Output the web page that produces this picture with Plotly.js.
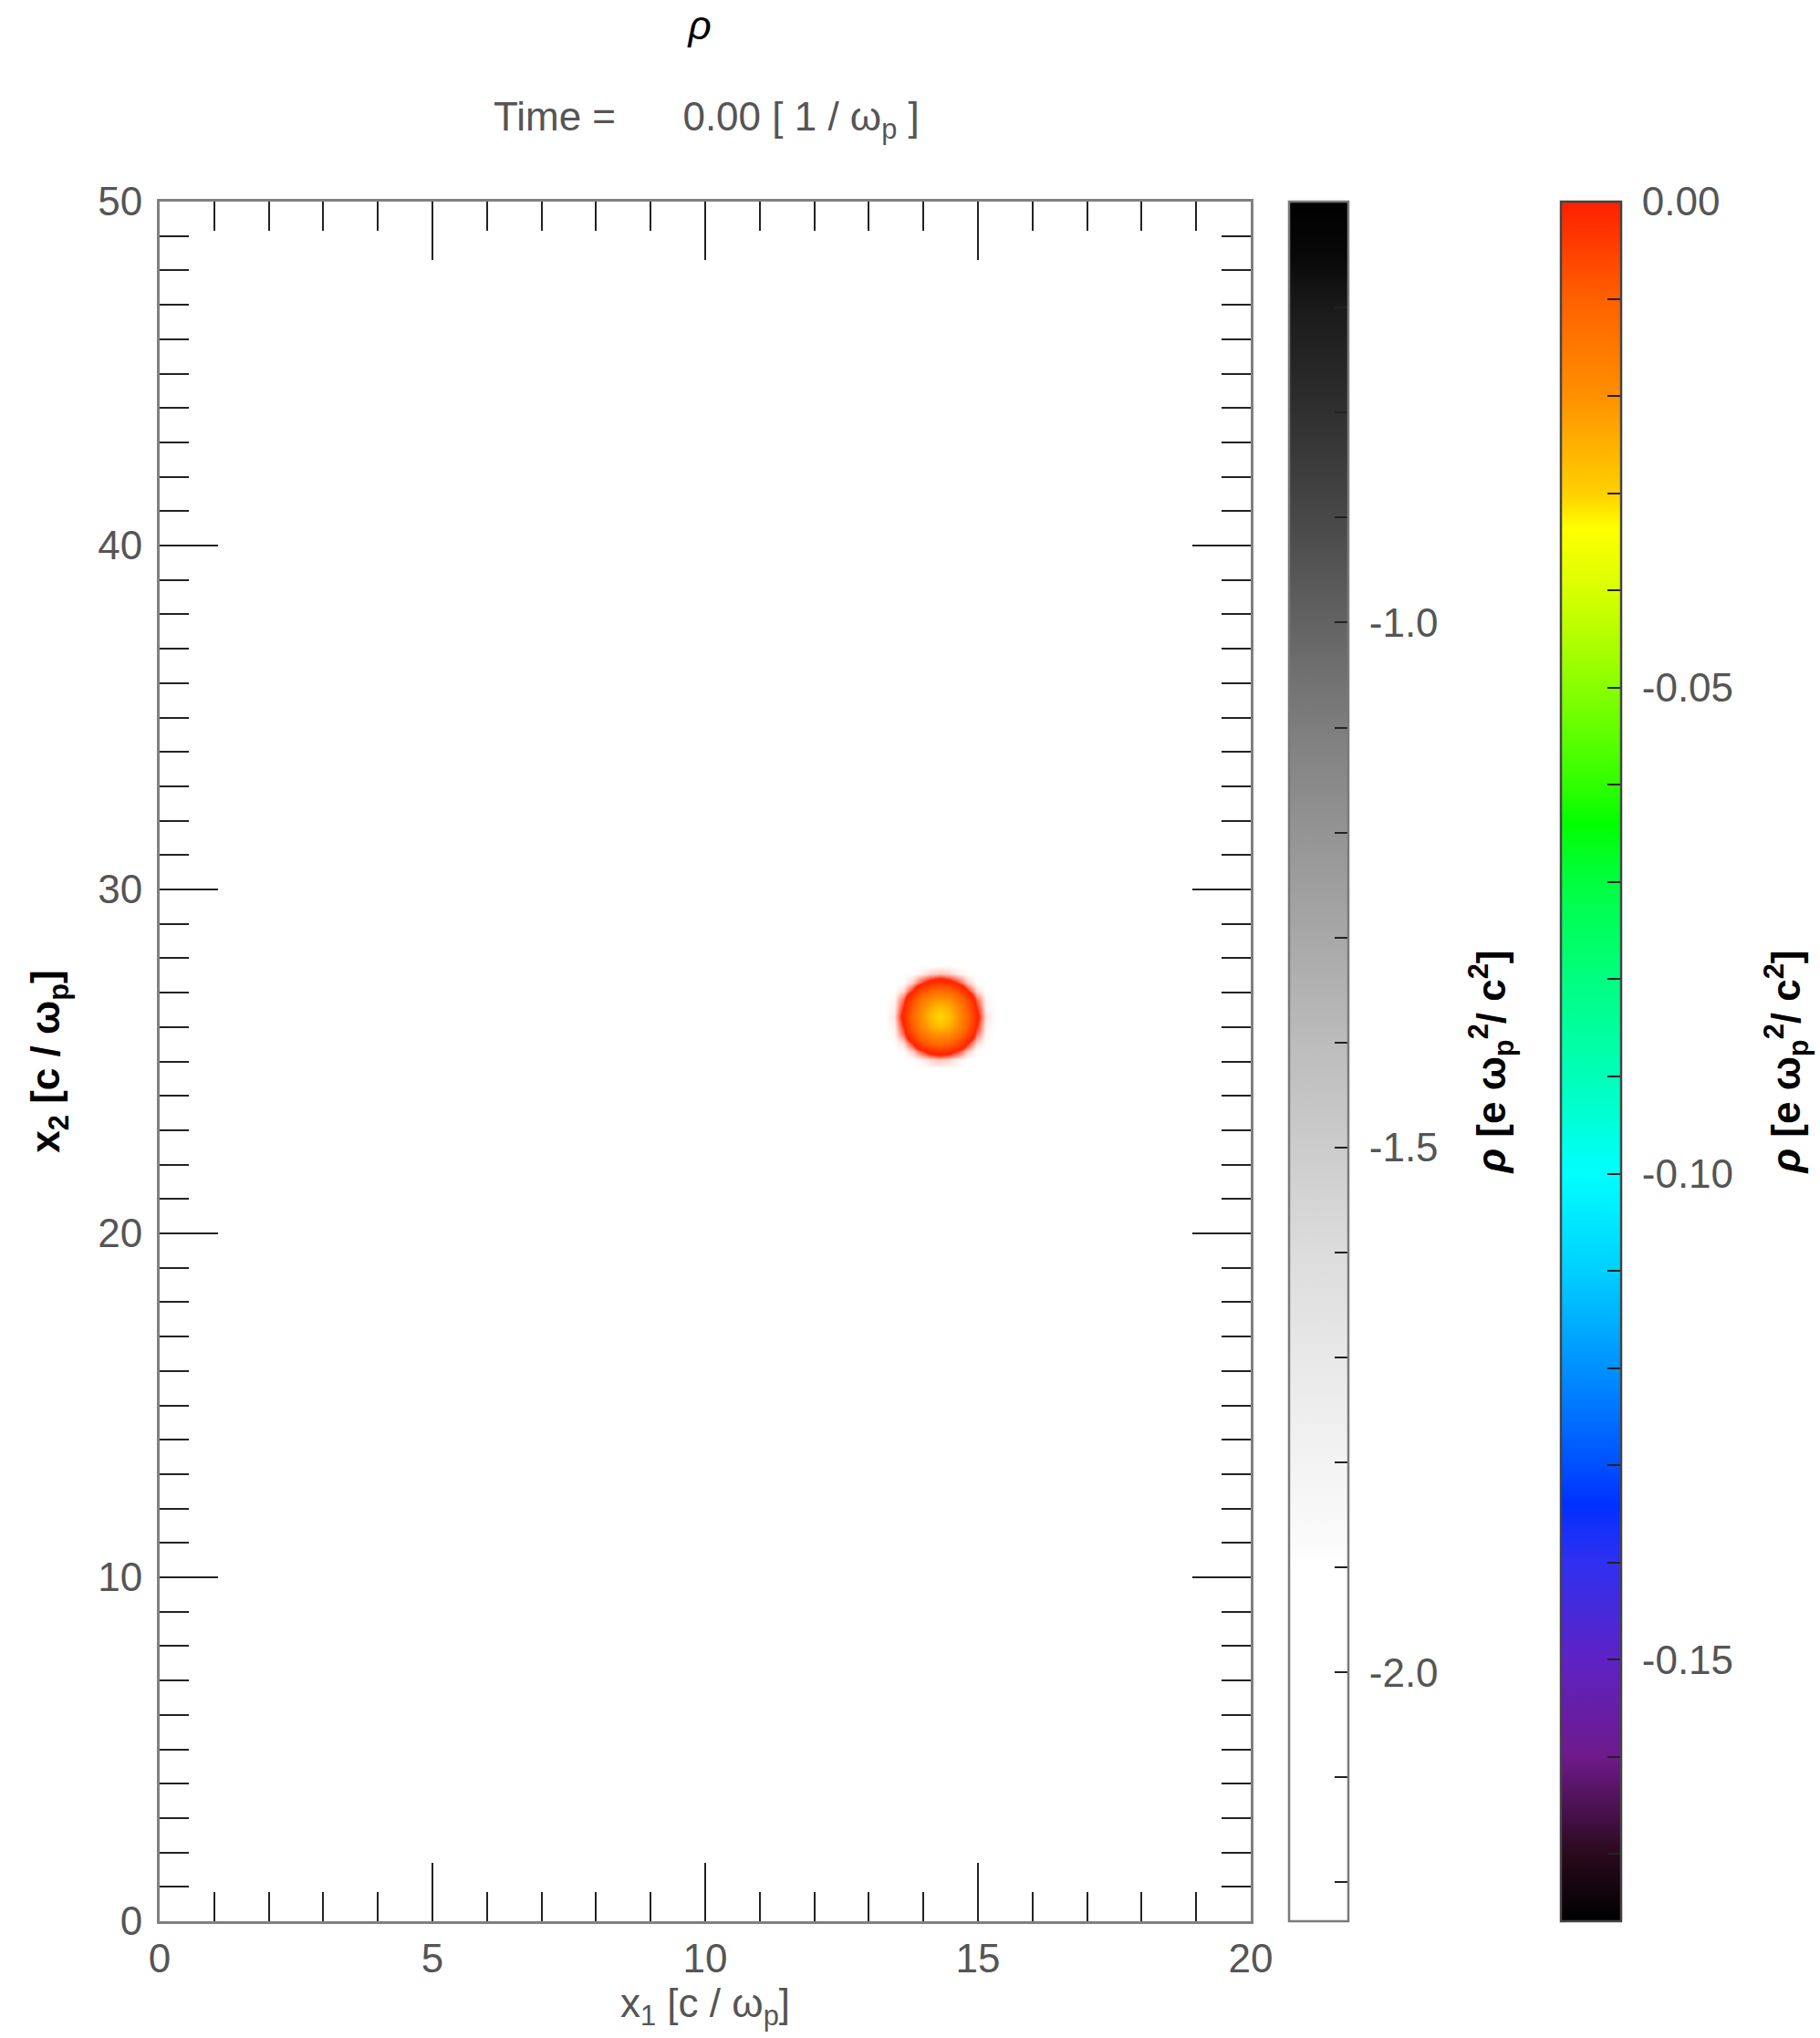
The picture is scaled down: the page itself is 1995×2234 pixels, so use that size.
<!DOCTYPE html>
<html>
<head>
<meta charset="utf-8">
<script src="https://cdn.plot.ly/plotly-3.0.1.min.js"></script>
<style>
  html, body { margin: 0; padding: 0; background: #ffffff; }
  #chart { width: 1995px; height: 2234px; }
</style>
</head>
<body>
<div id="chart"></div>
<script>
// ---- Charge density rho of the beam species, sampled on a local patch ----
// x1 / x2 cell centres in units of c / omega_p
const x1Cells = [13.3, 13.467, 13.633, 13.8, 13.967, 14.133, 14.3, 14.467, 14.633, 14.8, 14.967, 15.133, 15.3];
const x2Cells = [24.8, 25.05, 25.3, 25.55, 25.8, 26.05, 26.3, 26.55, 26.8, 27.05, 27.3, 27.55, 27.8];
// rho [e omega_p^2 / c^2], one row per x2 cell (bottom to top)
const rhoBeam = [
  [0, 0, 0, 0, 0, 0, 0, 0, 0, 0, 0, 0, 0],
  [0, 0, 0, 0, -0.0002, -0.0006, -0.0008, -0.0006, -0.0002, 0, 0, 0, 0],
  [0, 0, 0, -0.0007, -0.0025, -0.004, -0.005, -0.004, -0.0025, -0.0007, 0, 0, 0],
  [0, 0, -0.0005, -0.003, -0.0075, -0.0115, -0.013, -0.0115, -0.0075, -0.003, -0.0005, 0, 0],
  [0, -0.0001, -0.002, -0.007, -0.014, -0.0195, -0.021, -0.0195, -0.014, -0.007, -0.002, -0.0001, 0],
  [0, -0.0002, -0.003, -0.010, -0.019, -0.025, -0.028, -0.025, -0.019, -0.010, -0.003, -0.0002, 0],
  [0, -0.0004, -0.0038, -0.0115, -0.020, -0.0275, -0.031, -0.0275, -0.020, -0.0115, -0.0038, -0.0004, 0],
  [0, -0.0002, -0.003, -0.010, -0.019, -0.025, -0.028, -0.025, -0.019, -0.010, -0.003, -0.0002, 0],
  [0, -0.0001, -0.002, -0.007, -0.014, -0.0195, -0.021, -0.0195, -0.014, -0.007, -0.002, -0.0001, 0],
  [0, 0, -0.0005, -0.003, -0.0075, -0.0115, -0.013, -0.0115, -0.0075, -0.003, -0.0005, 0, 0],
  [0, 0, 0, -0.0007, -0.0025, -0.004, -0.005, -0.004, -0.0025, -0.0007, 0, 0, 0],
  [0, 0, 0, 0, -0.0002, -0.0006, -0.0008, -0.0006, -0.0002, 0, 0, 0, 0],
  [0, 0, 0, 0, 0, 0, 0, 0, 0, 0, 0, 0, 0]
];

// ---- Background species: uniform over the box on this frame ----
const bgCornersX1 = [0, 20];
const bgCornersX2 = [0, 50];
const bgDensity = [
  [-2.237, -2.237],
  [-2.237, -2.237]
];

// ---- Colour ranges of the two species ----
const rhoRange = [-0.1769, 0];          // beam species (rainbow)
const grayRange = [-2.237, -0.599];     // background species (gray)

// ---- Axis ranges and tick labels ----
const x1Range = [0, 20];
const x2Range = [0, 50];
const x1TickVals = [0, 5, 10, 15, 20];
const x1TickText = ['0', '5', '10', '15', '20'];
const x2TickVals = [0, 10, 20, 30, 40, 50];
const x2TickText = ['0', '10', '20', '30', '40', '50'];

const rhoTickVals = [0, -0.01, -0.02, -0.03, -0.04, -0.05, -0.06, -0.07, -0.08, -0.09,
                     -0.10, -0.11, -0.12, -0.13, -0.14, -0.15, -0.16, -0.17];
const rhoTickText = ['0.00', '', '', '', '', '-0.05', '', '', '', '',
                     '-0.10', '', '', '', '', '-0.15', '', ''];
const grayTickVals = [-0.7, -0.8, -0.9, -1.0, -1.1, -1.2, -1.3, -1.4, -1.5, -1.6,
                      -1.7, -1.8, -1.9, -2.0, -2.1, -2.2];
const grayTickText = ['', '', '', '-1.0', '', '', '', '', '-1.5', '',
                      '', '', '', '-2.0', '', ''];

const timeValue = '0.00';

// ---- Colour tables ----
const rhoScale = [
  [0.0000, '#000000'], [0.0390, '#2a0a1c'], [0.0955, '#6e1a8a'], [0.1521, '#5e22c4'],
  [0.2086, '#3030f0'], [0.2425, '#0030ff'], [0.2651, '#0050ff'], [0.3216, '#0090ff'],
  [0.3782, '#00d0ff'], [0.4347, '#00ffff'], [0.4912, '#00ffb8'], [0.5478, '#00ff80'],
  [0.6043, '#00ff40'], [0.6382, '#00ff00'], [0.6608, '#30ff00'], [0.7174, '#88ff00'],
  [0.7739, '#d8ff00'], [0.8101, '#ffff00'], [0.8304, '#ffd000'], [0.8869, '#ff9000'],
  [0.9435, '#ff6000'], [1.0000, '#ff2000']
];
// same table, with the weakest charge blending into the white background
const rhoFadeScale = rhoScale.slice(0, -1).concat([[0.9830, '#ff2400'], [1.0, '#ffffff']]);

const grayScale = [
  [0.000, '#ffffff'], [0.206, '#ffffff'], [0.218, '#fbfbfb'], [0.267, '#f3f3f3'],
  [0.328, '#e8e8e8'], [0.389, '#dcdcdc'], [0.450, '#cccccc'], [0.511, '#bcbcbc'],
  [0.572, '#a8a8a8'], [0.633, '#949494'], [0.694, '#7e7e7e'], [0.755, '#636363'],
  [0.816, '#484848'], [0.877, '#303030'], [0.938, '#1a1a1a'], [0.969, '#080808'],
  [1.000, '#000000']
];

const FONT = 'Liberation Sans, Arial, Helvetica, sans-serif';
const LABEL_GRAY = '#555555';
const cbTitle = '<b><i>ρ</i> [e ω<sub>p</sub><sup>2</sup>/ c<sup>2</sup>]</b>';
const NB = '\u00a0';

// plot-area geometry in pixels (used to place the colour bars)
const plotLeft = 175, plotRight = 1371;
const plotW = plotRight - plotLeft;

// colour-bar labels sit a little away from the bar, title further out
function padLabels(labels, after) {
  return labels.map(t => (t ? NB + t + NB.repeat(after) : t));
}

function colorbarStyle(leftPx, thick, vals, text, outline) {
  return {
    x: (leftPx - plotLeft) / plotW, xanchor: 'left', xpad: 0,
    y: 0.5, yanchor: 'middle', len: 1, lenmode: 'fraction', ypad: 0,
    thickness: thick, thicknessmode: 'pixels',
    outlinecolor: outline, outlinewidth: 2.5,
    tickmode: 'array', tickvals: vals, ticktext: text,
    ticks: 'inside', ticklen: 16, tickwidth: 2, tickcolor: '#222222',
    tickfont: { family: FONT, size: 44, color: LABEL_GRAY },
    title: { text: cbTitle, side: 'right', font: { family: FONT, size: 44, color: '#000000' } },
    borderwidth: 0, bgcolor: 'rgba(0,0,0,0)'
  };
}

const traces = [
  // background species (gray table)
  {
    type: 'heatmap', name: 'background',
    x: bgCornersX1, y: bgCornersX2, z: bgDensity,
    zmin: grayRange[0], zmax: grayRange[1], colorscale: grayScale,
    showscale: true, hoverinfo: 'skip',
    colorbar: colorbarStyle(1413, 65, grayTickVals, padLabels(grayTickText, 2), '#7a7a7a')
  },
  // beam species: carries the rainbow colour bar
  {
    type: 'heatmap', name: 'rho',
    x: x1Cells, y: x2Cells, z: rhoBeam,
    zmin: rhoRange[0], zmax: rhoRange[1], colorscale: rhoScale,
    zsmooth: 'best', opacity: 0, showscale: true, hoverinfo: 'skip',
    colorbar: colorbarStyle(1711, 66, rhoTickVals, padLabels(rhoTickText, 2), '#444444')
  },
  // beam species as displayed, faint edge merged with the background
  {
    type: 'heatmap', name: 'rho edge',
    x: x1Cells, y: x2Cells, z: rhoBeam,
    zmin: rhoRange[0], zmax: rhoRange[1], colorscale: rhoFadeScale,
    zsmooth: 'best', showscale: false, hoverinfo: 'skip'
  }
];

const axisCommon = {
  ticks: 'inside', ticklen: 64, tickwidth: 2, tickcolor: '#222222',
  showline: true, linecolor: '#808080', linewidth: 3, mirror: 'allticks',
  showgrid: false, zeroline: false, fixedrange: true,
  tickfont: { family: FONT, size: 44, color: LABEL_GRAY },
  minor: { tickmode: 'linear', tick0: 0, dtick: 1, ticks: 'inside', ticklen: 32,
           tickwidth: 2, tickcolor: '#222222', showgrid: false }
};

const layout = {
  width: 1995, height: 2234,
  margin: { l: plotLeft, r: 1995 - plotRight, t: 221, b: 128, pad: 0, autoexpand: false },
  paper_bgcolor: '#ffffff', plot_bgcolor: '#ffffff',
  font: { family: FONT, size: 44, color: LABEL_GRAY },
  showlegend: false,
  title: {
    text: '<i>ρ</i>', font: { family: FONT, size: 44, color: '#000000' },
    xref: 'paper', x: 0.495, xanchor: 'center',
    yref: 'container', y: 0.9875, yanchor: 'middle'
  },
  xaxis: Object.assign({}, axisCommon, {
    range: x1Range, tickmode: 'array', tickvals: x1TickVals, ticktext: x1TickText,
    title: { text: 'x<sub>1</sub> [c / ω<sub>p</sub>]', standoff: 10,
             font: { family: FONT, size: 44, color: LABEL_GRAY } }
  }),
  yaxis: Object.assign({}, axisCommon, {
    range: x2Range, tickmode: 'array', tickvals: x2TickVals, ticktext: x2TickText,
    ticklabelstandoff: 7,
    title: { text: '<b>x<sub>2</sub> [c / ω<sub>p</sub>]</b>', standoff: 28,
             font: { family: FONT, size: 44, color: '#000000' } }
  }),
  annotations: [{
    xref: 'paper', yref: 'paper', x: (539 - plotLeft) / plotW, y: 1.0477,
    xanchor: 'left', yanchor: 'middle', showarrow: false,
    text: 'Time =\u00a0\u00a0\u00a0\u00a0\u00a0 ' + timeValue + ' [ 1 / ω<sub>p</sub> ]',
    font: { family: FONT, size: 44, color: LABEL_GRAY }
  }]
};

Plotly.newPlot('chart', traces, layout, { staticPlot: true, displayModeBar: false });
</script>
</body>
</html>
